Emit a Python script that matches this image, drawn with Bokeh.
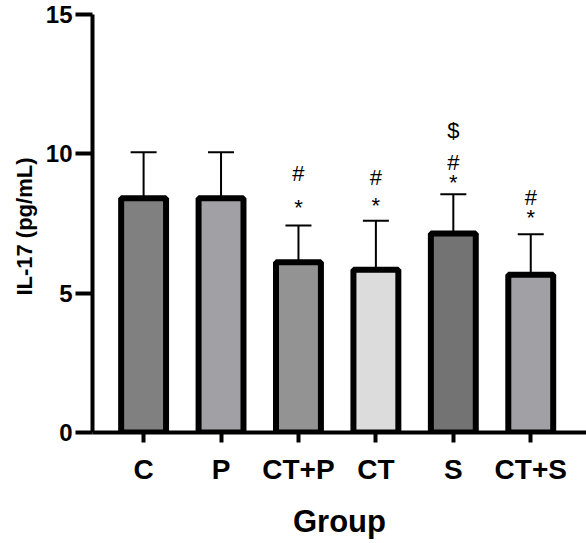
from bokeh.plotting import figure
from bokeh.models import ColumnDataSource, Whisker, TeeHead, FixedTicker, Range1d
from bokeh.core.properties import value
from bokeh.embed import file_html
from bokeh.resources import INLINE

groups = ["C", "P", "CT+P", "CT", "S", "CT+S"]
means = [8.41, 8.41, 6.11, 5.84, 7.14, 5.66]
sd = [1.65, 1.65, 1.32, 1.76, 1.41, 1.45]
colors = ["#808080", "#a0a0a5", "#939393", "#dcdcdc", "#737373", "#a0a0a5"]
yticks = [0, 5, 10, 15]

# significance marks (label, group index, pixel offset above the error bar)
marks = [("*", 2, -18), ("#", 2, -52),
         ("*", 3, -15), ("#", 3, -43),
         ("*", 4, -12), ("#", 4, -32), ("$", 4, -64),
         ("*", 5, -17), ("#", 5, -37)]

FONT = "Liberation Sans"
xs = list(range(len(groups)))
upper = [m + s for m, s in zip(means, sd)]
src = ColumnDataSource(dict(x=xs, top=means, upper=upper, color=colors))

p = figure(width=586, height=543, output_backend="svg", toolbar_location=None,
           x_range=Range1d(-0.66, 5.72), y_range=Range1d(0, 15),
           min_border_left=92, min_border_right=0, min_border_top=14, min_border_bottom=111)
p.outline_line_color = None
p.xgrid.visible = False
p.ygrid.visible = False
p.background_fill_color = "white"
p.border_fill_color = "white"

p.vbar(x="x", top="top", bottom=0, width=0.58, fill_color="color",
       line_color="black", line_width=6, source=src)

wh = Whisker(source=src, base="x", lower="top", upper="upper",
             line_color="black", line_width=2,
             upper_head=TeeHead(size=26, line_width=2, line_color="black"),
             lower_head=None, level="underlay")
p.add_layout(wh)

mx = [xs[i] for _, i, _ in marks]
my = [upper[i] for _, i, _ in marks]
mt = [t for t, _, _ in marks]
mo = [o for _, _, o in marks]
p.text(x=mx, y=my, text=mt, y_offset=mo, text_align="center", text_baseline="middle",
       text_font=value(FONT), text_font_size="22px", text_color="black")

# y axis
p.yaxis.ticker = FixedTicker(ticks=yticks)
p.yaxis.axis_line_width = 4
p.yaxis.major_tick_line_width = 4
p.yaxis.major_tick_out = 17
p.yaxis.major_tick_in = 0
p.yaxis.minor_tick_line_color = None
p.yaxis.major_label_text_font = FONT
p.yaxis.major_label_text_font_style = "bold"
p.yaxis.major_label_text_font_size = "24px"
p.yaxis.major_label_text_color = "black"
p.yaxis.major_label_standoff = 3
p.yaxis.axis_label = "IL-17  (pg/mL)"
p.yaxis.axis_label_text_font = FONT
p.yaxis.axis_label_text_font_style = "bold"
p.yaxis.axis_label_text_font_size = "22px"
p.yaxis.axis_label_text_color = "black"
p.yaxis.axis_label_standoff = 6

# x axis
p.xaxis.ticker = FixedTicker(ticks=xs)
p.xaxis.major_label_overrides = {i: g for i, g in zip(xs, groups)}
p.xaxis.axis_line_width = 4
p.xaxis.major_tick_line_width = 4
p.xaxis.major_tick_out = 10
p.xaxis.major_tick_in = 0
p.xaxis.minor_tick_line_color = None
p.xaxis.major_label_text_font = FONT
p.xaxis.major_label_text_font_style = "bold"
p.xaxis.major_label_text_font_size = "28px"
p.xaxis.major_label_text_color = "black"
p.xaxis.major_label_standoff = 11
p.xaxis.axis_label = "Group"
p.xaxis.axis_label_text_font = FONT
p.xaxis.axis_label_text_font_style = "bold"
p.xaxis.axis_label_text_font_size = "31px"
p.xaxis.axis_label_text_color = "black"
p.xaxis.axis_label_standoff = 16

open("out.html", "w").write(file_html(p, INLINE))
